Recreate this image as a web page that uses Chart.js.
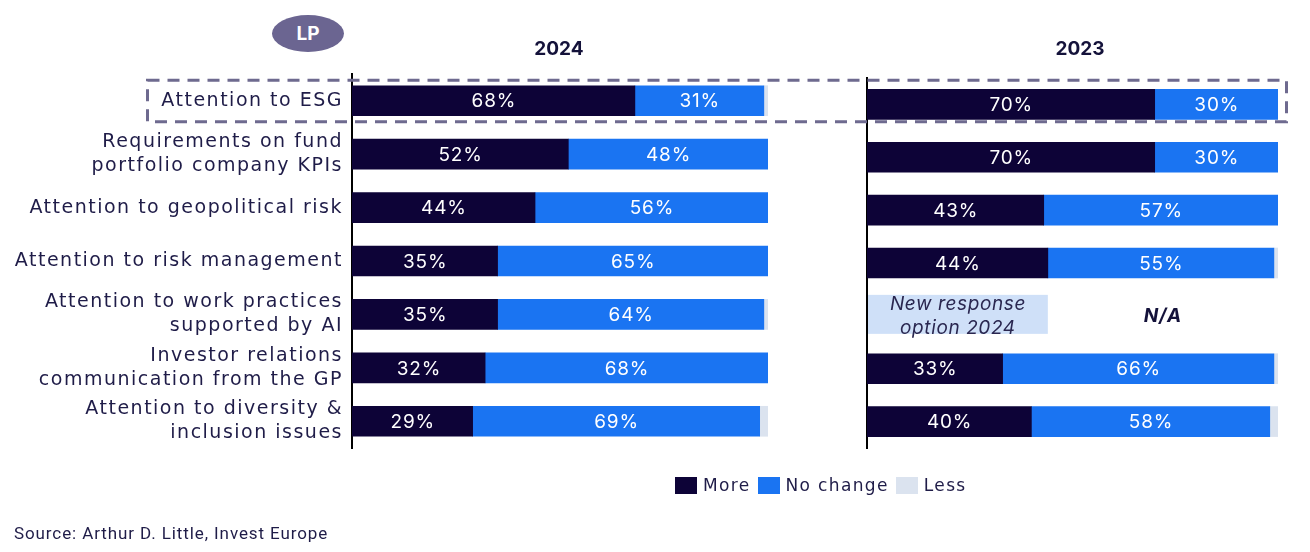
<!DOCTYPE html>
<html>
<head>
<meta charset="utf-8">
<script src="https://cdn.jsdelivr.net/npm/chart.js@4/dist/chart.umd.min.js"></script>
<style>
  html, body { margin:0; padding:0; background:#fff; }
  #wrap { position:relative; width:1310px; height:552px; overflow:hidden; background:#fff; font-family:'Inter', sans-serif; color:#1f1c48; }
  canvas { position:absolute; top:0; }
  .title { position:absolute; top:37px; width:120px; text-align:center; font-weight:700; font-size:19px; line-height:24px; color:#14123a; }
  #lp { position:absolute; left:272px; top:15px; width:72px; height:37px; border-radius:50%; background:#6b6591; color:#fff; font-weight:700; font-size:19px; line-height:37px; text-align:center; }
  #legend { position:absolute; left:675px; top:474px; display:flex; align-items:center; height:22px; font-family:'DejaVu Sans', sans-serif; font-size:17px; letter-spacing:1.35px; color:#1f1c48; }
  #legend .sw { width:22px; height:17px; margin-right:6px; }
  #legend .lt { margin-right:7px; }
  #source { position:absolute; left:14px; top:523px; font-family:'Roboto', sans-serif; font-size:17px; letter-spacing:0.9px; color:#1f1c48; }
  #overlay { position:absolute; left:0; top:0; pointer-events:none; }
</style>
</head>
<body>
<div id="wrap">
  <canvas id="c1" width="800" height="470" style="left:0"></canvas>
  <canvas id="c2" width="510" height="470" style="left:800px"></canvas>
  <canvas id="overlay" width="1310" height="552"></canvas>
  <div id="lp">LP</div>
  <div class="title" id="t1" style="left:499px"></div>
  <div class="title" id="t2" style="left:1020px"></div>
  <div id="legend"></div>
  <div id="source"></div>
</div>
<script>
// ---- data ----
const categories = [
  ["Attention to ESG"],
  ["Requirements on fund", "portfolio company KPIs"],
  ["Attention to geopolitical risk"],
  ["Attention to risk management"],
  ["Attention to work practices", "supported by AI"],
  ["Investor relations", "communication from the GP"],
  ["Attention to diversity &", "inclusion issues"]
];
const seriesNames = ["More", "No change", "Less"];
const more2024     = [68, 52, 44, 35, 35, 32, 29];
const noChange2024 = [31, 48, 56, 65, 64, 68, 69];
const less2024     = [1, 0, 0, 0, 1, 0, 2];
const more2023     = [70, 70, 43, 44, null, 33, 40];
const noChange2023 = [30, 30, 57, 55, null, 66, 58];
const less2023     = [0, 0, 0, 1, null, 1, 2];
const panelTitles = ["2024", "2023"];
const newOptionNote = ["New response", "option 2024"];
const naLabel = "N/A";
const sourceText = "Source: Arthur D. Little, Invest Europe";

// ---- styles ----
const colors = ["#0d0337", "#1a74f2", "#dbe3ef"];
const textColor = "#1f1c48";

document.getElementById('t1').textContent = panelTitles[0];
document.getElementById('t2').textContent = panelTitles[1];
document.getElementById('source').textContent = sourceText;
const lg = document.getElementById('legend');
seriesNames.forEach((n, i) => {
  const s = document.createElement('div'); s.className = 'sw'; s.style.background = colors[i]; lg.appendChild(s);
  const t = document.createElement('div'); t.className = 'lt'; t.textContent = n; lg.appendChild(t);
});

const spacing = {
  id: 'spacing',
  beforeDraw(chart) { chart.ctx.letterSpacing = '1.5px'; }
};

const valueLabels = {
  id: 'valueLabels',
  afterDatasetsDraw(chart) {
    const ctx = chart.ctx;
    ctx.save();
    ctx.letterSpacing = '0.8px';
    ctx.fillStyle = '#ffffff';
    ctx.font = '19px Inter';
    ctx.textAlign = 'center';
    ctx.textBaseline = 'middle';
    [0, 1].forEach(di => {
      const meta = chart.getDatasetMeta(di);
      const ds = chart.data.datasets[di];
      meta.data.forEach((bar, j) => {
        const v = ds.data[j];
        if (!v) return;
        const p = bar.getProps(['x', 'base', 'y'], true);
        ctx.fillText(v + '%', (p.x + p.base) / 2 + 0.4, p.y + 1);
      });
    });
    ctx.restore();
  }
};

const placeholder = {
  id: 'placeholder',
  afterDatasetsDraw(chart, args, opts) {
    if (!opts || opts.index == null) return;
    const ctx = chart.ctx, xs = chart.scales.x, ys = chart.scales.y;
    const yc = ys.getPixelForValue(opts.index);
    const x0 = xs.getPixelForValue(0) + 1, x1 = xs.getPixelForValue(opts.span);
    ctx.save();
    ctx.letterSpacing = '0.6px';
    ctx.fillStyle = '#cfe0f8';
    ctx.fillRect(x0, yc - 21, x1 - x0, 39);
    ctx.fillStyle = '#2a2750';
    ctx.font = 'italic 19px Inter';
    ctx.textAlign = 'center';
    ctx.textBaseline = 'middle';
    ctx.fillText(opts.lines[0], (x0 + x1) / 2, yc - 12);
    ctx.fillText(opts.lines[1], (x0 + x1) / 2, yc + 12);
    ctx.font = 'italic 700 19px Inter';
    ctx.letterSpacing = '1px';
    ctx.fillStyle = '#14123a';
    ctx.fillText(opts.na, xs.getPixelForValue((opts.span + 100) / 2), yc);
    ctx.restore();
  }
};

function makeChart(id, more, noChange, less, cfg) {
  return new Chart(document.getElementById(id), {
    type: 'bar',
    data: {
      labels: categories,
      datasets: [more, noChange, less].map((d, i) => ({
        label: seriesNames[i], data: d, backgroundColor: colors[i],
        barThickness: 30, borderWidth: 0
      }))
    },
    options: {
      indexAxis: 'y',
      responsive: false,
      animation: false,
      devicePixelRatio: 1,
      layout: { padding: cfg.padding },
      plugins: { legend: { display: false }, tooltip: { enabled: false }, placeholder: cfg.placeholder || {} },
      scales: {
        x: { stacked: true, min: 0, max: 100, display: false },
        y: {
          stacked: true,
          grid: { display: false, drawTicks: false },
          border: { display: true, color: '#000000', width: 2 },
          ticks: { display: cfg.showTicks, padding: 9, color: textColor, font: { family: 'DejaVu Sans', size: 19, lineHeight: 1.25 } },
          afterFit(scale) { scale.width = cfg.axisWidth; }
        }
      }
    },
    plugins: [spacing, valueLabels, placeholder]
  });
}

const ch1 = makeChart('c1', more2024, noChange2024, less2024, {
  padding: { left: 0, top: 74, right: 32, bottom: 22 }, axisWidth: 352, showTicks: true
});
const ch2 = makeChart('c2', more2023, noChange2023, less2023, {
  padding: { left: 0, top: 78, right: 32, bottom: 22 }, axisWidth: 67, showTicks: false,
  placeholder: { index: 4, span: 44, lines: newOptionNote, na: naLabel }
});

// dashed highlight around first row
const ov = document.getElementById('overlay').getContext('2d');
const yc = ch1.scales.y.getPixelForValue(0);
ov.strokeStyle = '#6e6a8f';
ov.lineWidth = 3;
ov.setLineDash([12, 8]);
ov.strokeRect(147.5, yc - 20.5, 1139, 41.5);
</script>
</body>
</html>
